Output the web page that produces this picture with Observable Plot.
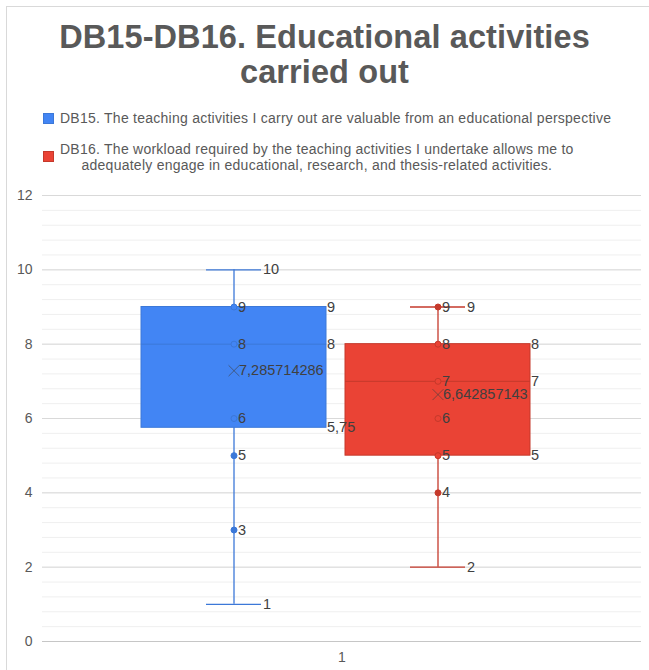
<!DOCTYPE html>
<html>
<head>
<meta charset="utf-8">
<script src="https://cdn.jsdelivr.net/npm/d3@7"></script>
<script src="https://cdn.jsdelivr.net/npm/@observablehq/plot@0.6"></script>
<style>
  body { margin: 0; background: #fff; }
  #wrap { position: relative; width: 649px; height: 670px; overflow: hidden; font-family: "Liberation Sans", Arial, sans-serif; }
  #border { position: absolute; left: 6px; top: 6px; width: 660px; height: 700px; border: 1px solid #d9d9d9; box-sizing: border-box; }
  #title { position: absolute; left: 0; top: 20px; width: 649px; text-align: center; font-weight: bold; font-size: 32.5px; line-height: 35px; color: #595959; letter-spacing: 0.1px; }
  .sw { position: absolute; width: 11px; height: 11px; }
  .lt { position: absolute; font-size: 14px; letter-spacing: 0.25px; color: #595959; line-height: 16px; white-space: nowrap; }
  #chart { position: absolute; left: 0; top: 180px; }
</style>
</head>
<body>
<div id="wrap">
  <div id="border"></div>
  <div id="title">DB15-DB16. Educational activities<br>carried out</div>
  <div class="sw" style="left:43px;top:113px;background:#4285f4;border:1px solid #3c78d8;box-sizing:border-box"></div>
  <div class="lt" id="l1" style="left:60px;top:110px"></div>
  <div class="sw" style="left:43px;top:151px;background:#ea4335;border:1px solid #c5392b;box-sizing:border-box"></div>
  <div class="lt" id="l2" style="left:60px;top:141px;text-align:center"></div>
  <div id="chart"></div>
</div>
<script>
const category = ["1"];
const series = ["DB15", "DB16"];
const legendLabels = [
  "DB15. The teaching activities I carry out are valuable from an educational perspective",
  "DB16. The workload required by the teaching activities I undertake allows me to<br>adequately engage in educational, research, and thesis-related activities."
];
const minV = [1, 2];
const q1V = [5.75, 5];
const medV = [8, 7];
const q3V = [9, 8];
const maxV = [10, 9];
const meanV = [7.285714286, 6.642857143];
const innerPoints = [[9, 8, 6, 5, 3], [9, 8, 7, 6, 5, 4]];
const yTicks = [0, 2, 4, 6, 8, 10, 12];
const fills = ["#4285f4", "#ea4335"];
const strokes = ["#3c78d8", "#c5392b"];

document.getElementById("l1").innerHTML = legendLabels[0];
document.getElementById("l2").innerHTML = legendLabels[1];

const fmt = v => String(v).replace(".", ",");
const boxes = series.map((s, i) => ({
  cat: category[0], series: s, min: minV[i], q1: q1V[i], med: medV[i], q3: q3V[i], max: maxV[i], mean: meanV[i], fill: fills[i], stroke: strokes[i]
}));
const points = boxes.flatMap((b, i) => innerPoints[i].map(v => ({cat: b.cat, series: b.series, value: v, stroke: b.stroke, fill: b.fill, inBox: v >= b.q1 && v <= b.q3})));
const edgeLabels = boxes.flatMap(b => [b.q3, b.med, b.q1].map(v => ({cat: b.cat, series: b.series, value: v})));
const capLabels = boxes.flatMap(b => [b.max, b.min].map(v => ({cat: b.cat, series: b.series, value: v})));
const minorTicks = d3.range(0, 12.001, 0.4).map(v => +v.toFixed(1));

const labelFill = "#404040";
const chart = Plot.plot({
  width: 649, height: 490,
  marginTop: 15, marginBottom: 29, marginLeft: 42, marginRight: 8,
  style: {fontFamily: "'Liberation Sans', Arial, sans-serif", fontSize: "14px", color: "#595959", background: "transparent"},
  fx: {domain: category, padding: 0, label: null, tickSize: 0, tickPadding: 11},
  x: {domain: series, paddingInner: 0.093, paddingOuter: 0.512, align: 0.47, axis: null},
  y: {domain: [0, 12], ticks: yTicks, tickSize: 0, tickPadding: 10, label: null},
  marks: [
    Plot.ruleY(minorTicks, {stroke: "#efefef"}),
    Plot.ruleY(yTicks, {stroke: "#d9d9d9"}),
    Plot.ruleY([0], {stroke: "#c6c6c6"}),
    Plot.ruleX([0], {frameAnchor: "left", stroke: "#d9d9d9"}),
    Plot.ruleX(boxes, {fx: "cat", x: "series", y1: "min", y2: "max", stroke: "stroke", strokeWidth: 1.3}),
    Plot.tickY(boxes, {fx: "cat", x: "series", y: "max", stroke: "stroke", strokeWidth: 1.3, insetLeft: 65, insetRight: 65}),
    Plot.tickY(boxes, {fx: "cat", x: "series", y: "min", stroke: "stroke", strokeWidth: 1.3, insetLeft: 65, insetRight: 65}),
    Plot.barY(boxes, {fx: "cat", x: "series", y1: "q1", y2: "q3", fill: "fill", stroke: "stroke", strokeWidth: 1}),
    Plot.tickY(boxes, {fx: "cat", x: "series", y: "med", stroke: "stroke", strokeWidth: 1}),
    Plot.dot(points, {fx: "cat", x: "series", y: "value", r: 3, fill: d => d.inBox ? d.fill : d.stroke, stroke: "stroke", strokeWidth: 1}),
    Plot.dot(boxes, {fx: "cat", x: "series", y: "mean", symbol: "times", r: 5, stroke: "#3d3d3d", strokeOpacity: 0.6, strokeWidth: 1}),
    Plot.text(points, {fx: "cat", x: "series", y: "value", text: d => fmt(d.value), dx: 4, textAnchor: "start", fontSize: 14.5, fill: labelFill}),
    Plot.text(edgeLabels, {fx: "cat", x: "series", y: "value", text: d => fmt(d.value), dx: 93, textAnchor: "start", fontSize: 14.5, fill: labelFill}),
    Plot.text(capLabels, {fx: "cat", x: "series", y: "value", text: d => fmt(d.value), dx: 29, textAnchor: "start", fontSize: 14.5, fill: labelFill}),
    Plot.text(boxes, {fx: "cat", x: "series", y: "mean", text: d => fmt(d.mean), dx: 5, textAnchor: "start", fontSize: 14.5, fill: labelFill})
  ]
});
document.getElementById("chart").appendChild(chart);
</script>
</body>
</html>
